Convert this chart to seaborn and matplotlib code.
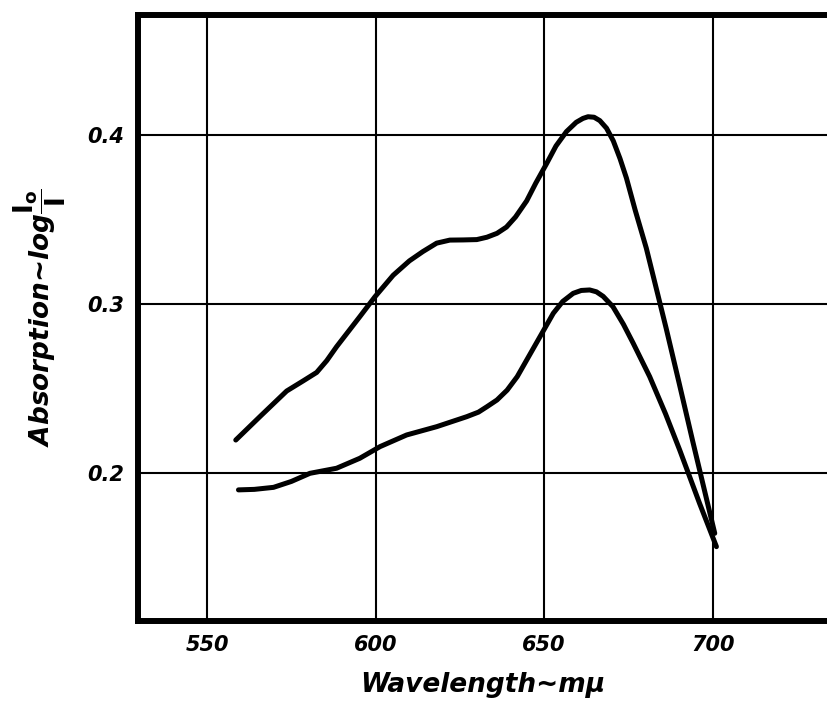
import matplotlib
matplotlib.use("Agg")
import matplotlib.pyplot as plt
import seaborn as sns
import pandas as pd

# Upper curve
upper_x = [558.5, 566, 573.6, 578.5, 582.5, 585.5, 588.4, 595.3, 599.8, 605.2, 610, 614, 618.1, 622, 626, 630,
           633, 636, 638.8, 641.5, 644.8, 647.5, 650.7, 653.5, 656.6, 659.5, 661.5, 663, 664.8, 666.5, 668.5,
           670.5, 672.5, 674.4, 677, 680.3, 686.2, 690, 694.1, 700.6]
upper_y = [0.2195, 0.234, 0.2485, 0.2545, 0.2595, 0.2665, 0.2747, 0.2925, 0.3043, 0.317, 0.3255, 0.331, 0.3360,
           0.3378, 0.3379, 0.3381, 0.3395, 0.3418, 0.3455, 0.3515, 0.3610, 0.3715, 0.3830, 0.3935, 0.4020,
           0.4075, 0.4098, 0.4108, 0.4105, 0.4085, 0.4040, 0.3965, 0.3860, 0.3745, 0.3555, 0.3330, 0.2855,
           0.2535, 0.2185, 0.1643]

# Lower curve
lower_x = [559.3, 564, 569.7, 575, 580.5, 588.4, 595.3, 601.3, 609.2, 618.1, 627, 630.5, 633, 636, 639,
           642, 646.8, 650, 652.7, 655.5, 658.6, 661, 663.5, 665.5, 667.5, 670.4, 673.5, 676.4, 681.3, 686,
           690.2, 696.1, 701.1]
lower_y = [0.19, 0.1903, 0.1915, 0.195, 0.1998, 0.2028, 0.2087, 0.2156, 0.2225, 0.2274, 0.2333, 0.2360,
           0.2392, 0.2432, 0.2490, 0.2570, 0.2738, 0.2850, 0.2945, 0.3015, 0.3063, 0.3080, 0.3083, 0.3072,
           0.3045, 0.2984, 0.2880, 0.2768, 0.2570, 0.2350, 0.2136, 0.1820, 0.1564]

x_ticks = [550, 600, 650, 700]
y_ticks = [0.2, 0.3, 0.4]
y_tick_labels = ["0.2", "0.3", "0.4"]

df = pd.concat([
    pd.DataFrame({"wl": upper_x, "abs": upper_y, "curve": "upper"}),
    pd.DataFrame({"wl": lower_x, "abs": lower_y, "curve": "lower"}),
])

sns.set_style("white")
plt.rcParams["font.family"] = ["DejaVu Sans"]
plt.rcParams["mathtext.fontset"] = "dejavusans"
plt.rcParams["text.color"] = "black"
plt.rcParams["axes.labelcolor"] = "black"
plt.rcParams["xtick.color"] = "black"
plt.rcParams["ytick.color"] = "black"

fig = plt.figure(figsize=(8.28, 7.07), dpi=100)
ax = fig.add_axes([0.1667, 0.1216, 0.8333, 0.8572])

ax.set_xlim(529.5, 734.2)
ax.set_ylim(0.1124, 0.471)

for xv in x_ticks:
    ax.axvline(xv, color="black", lw=1.5, zorder=1)
for yv in y_ticks:
    ax.axhline(yv, color="black", lw=1.5, zorder=1)

sns.lineplot(data=df, x="wl", y="abs", units="curve", estimator=None, sort=False,
             color="black", lw=3.6, ax=ax, zorder=3,
             solid_joinstyle="round", solid_capstyle="round")

for s in ["left", "bottom", "top"]:
    ax.spines[s].set_linewidth(4.3)
    ax.spines[s].set_color("black")
ax.spines["right"].set_visible(False)

ax.set_xticks(x_ticks)
ax.set_xticklabels([str(v) for v in x_ticks], fontsize=15, fontweight="heavy", style="italic")
ax.set_yticks(y_ticks)
ax.set_yticklabels(y_tick_labels, fontsize=15, fontweight="heavy", style="italic")
ax.tick_params(axis="both", length=0, pad=10, colors="black")

ax.set_xlabel("Wavelength~mμ", fontsize=19, fontweight="heavy", style="italic", labelpad=12)
ax.set_ylabel(r"Absorption~log$\mathbf{\dfrac{I_o}{I}}$", fontsize=19, fontweight="heavy",
              style="italic", labelpad=14)

fig.savefig("out.png", dpi=100)
